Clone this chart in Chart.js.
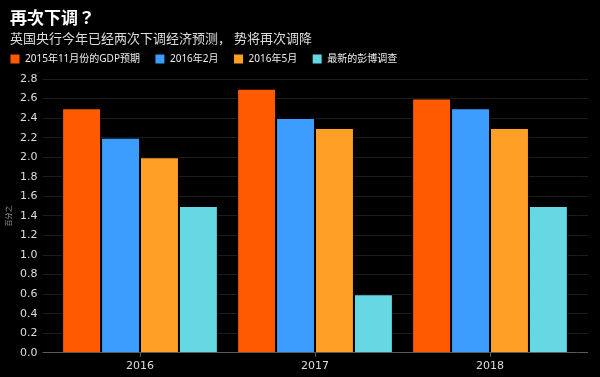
<!DOCTYPE html>
<html>
<head>
<meta charset="utf-8">
<script src="https://cdn.jsdelivr.net/npm/chart.js@4"></script>
<style>
  html, body { margin: 0; padding: 0; background: #000; }
  #wrap { width: 600px; height: 377px; }
</style>
</head>
<body>
<div id="wrap"><canvas id="bankChart" width="600" height="377"></canvas></div>
<script>
const years = ['2016', '2017', '2018'];
const nov2015 = [2.5, 2.7, 2.6];
const feb2016 = [2.2, 2.4, 2.5];
const may2016 = [2.0, 2.3, 2.3];
const latestSurvey = [1.5, 0.6, 1.5];
const seriesNames = ['2015年11月份的GDP预期', '2016年2月', '2016年5月', '最新的彭博调查'];
const titleText = '再次下调？';
const subtitleText = '英国央行今年已经两次下调经济预测， 势将再次调降';

const fontFamily = '"DejaVu Sans", "Noto Sans CJK SC", sans-serif';
const legendFamily = '"Noto Sans", "Noto Sans CJK SC", sans-serif';
const cjkFamily = '"Noto Sans CJK SC", "DejaVu Sans", sans-serif';
const gridColor = '#1c1c1c';
const axisColor = '#5a5a5a';

function makeSet(label, data, color) {
    return {
        label: label,
        data: data,
        backgroundColor: color,
        borderColor: '#000',
        borderWidth: 1,
        barPercentage: 1.0,
        categoryPercentage: 0.89
    };
}

function lineColor(c) {
    return c.tick && c.tick.value === 0 ? axisColor : gridColor;
}

// nudges the title boxes into place after layout
const placeBoxes = {
    id: 'placeBoxes',
    beforeLayout(chart) {
        const lg = chart.legend;
        if (lg && !lg._patched) {
            const fit = lg.fit.bind(lg);
            lg.fit = function () { fit(); this.height += 1; };
            lg._patched = true;
        }
    },
    afterLayout(chart) {
        chart.boxes.forEach(b => {
            if (b === chart.legend) {
                b.left -= 15;
                b.right -= 15;
                b.top -= 4;
                b.bottom -= 4;
            } else if (b.options && b.options.text === subtitleText) {
                b.top += 3;
                b.bottom += 3;
            }
        });
    }
};

const ctx = document.getElementById('bankChart').getContext('2d');
const chart = new Chart(ctx, {
    type: 'bar',
    data: {
        labels: years,
        datasets: [
            makeSet(seriesNames[0], nov2015, '#ff5a00'),
            makeSet(seriesNames[1], feb2016, '#3d9dff'),
            makeSet(seriesNames[2], may2016, '#ffa026'),
            makeSet(seriesNames[3], latestSurvey, '#66d8e4')
        ]
    },
    options: {
        responsive: false,
        animation: false,
        maintainAspectRatio: false,
        layout: {
            padding: { left: 10, right: 12, top: 4, bottom: 1 }
        },
        plugins: {
            title: {
                display: true,
                text: titleText,
                align: 'start',
                color: '#fff',
                font: { family: '"Noto Sans CJK TC", sans-serif', size: 17, weight: 'bold' },
                padding: { top: 3, bottom: 0 }
            },
            subtitle: {
                display: true,
                text: subtitleText,
                align: 'start',
                color: '#dcdcdc',
                font: { family: cjkFamily, size: 13 },
                padding: { top: 0, bottom: 0 }
            },
            legend: {
                position: 'top',
                align: 'start',
                labels: {
                    color: '#eee',
                    boxWidth: 10,
                    boxHeight: 10,
                    padding: 15,
                    font: { family: legendFamily, size: 10 }
                }
            },
            tooltip: { enabled: false }
        },
        scales: {
            x: {
                grid: {
                    display: true,
                    drawOnChartArea: false,
                    offset: false,
                    tickLength: 4,
                    color: axisColor
                },
                border: { display: false },
                ticks: {
                    color: '#ddd',
                    padding: 3,
                    font: { family: fontFamily, size: 11 }
                }
            },
            y: {
                min: 0,
                max: 2.8,
                afterFit: s => { s.width = 42.5; },
                ticks: {
                    stepSize: 0.2,
                    color: '#ddd',
                    padding: 5,
                    font: { family: fontFamily, size: 11 },
                    callback: v => v.toFixed(1)
                },
                grid: {
                    color: lineColor,
                    tickColor: lineColor,
                    drawTicks: true,
                    tickLength: 10
                },
                border: { display: false },
                title: {
                    display: true,
                    text: '百分之',
                    color: '#999',
                    padding: { top: -6, bottom: 0 },
                    font: { family: cjkFamily, size: 7 }
                }
            },
            yRight: {
                position: 'right',
                min: 0,
                max: 2.8,
                afterFit: s => { s.width = 10.5; },
                ticks: { display: false, stepSize: 0.2 },
                grid: {
                    color: lineColor,
                    tickColor: lineColor,
                    drawOnChartArea: false,
                    drawTicks: true,
                    tickLength: 10.5
                },
                border: { display: false }
            }
        }
    },
    plugins: [placeBoxes]
});
</script>
</body>
</html>
